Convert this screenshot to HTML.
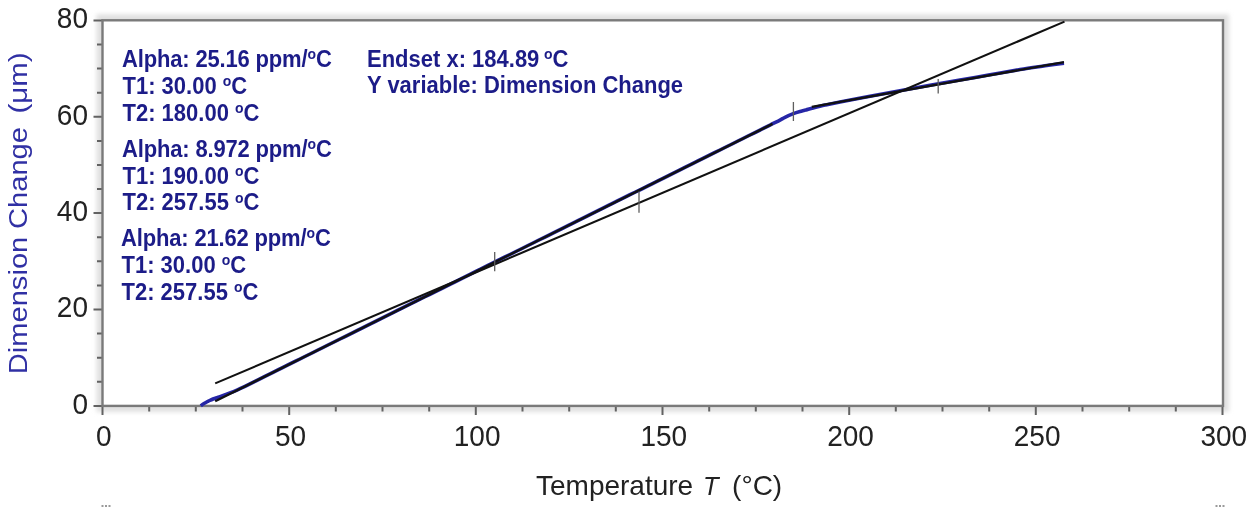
<!DOCTYPE html><html><head><meta charset="utf-8"><style>html,body{margin:0;padding:0;background:#fff;width:1251px;height:507px;overflow:hidden}svg{display:block}.tk{font-family:"Liberation Sans",Arial,sans-serif;font-size:28px;fill:#222}.yl{font-family:"Liberation Sans",Arial,sans-serif;font-size:29.5px;fill:#3030a4}.an{font-family:"Liberation Sans",Arial,sans-serif;font-size:22px;font-weight:bold;fill:#1c1c88}</style></head><body><svg width="1251" height="507" viewBox="0 0 1251 507"><defs><filter id="bl" x="-5%" y="-5%" width="110%" height="110%"><feGaussianBlur stdDeviation="2"/></filter></defs><rect x="96.5" y="14.3" width="1132.5" height="397.59999999999997" fill="#e0e0e0" filter="url(#bl)"/><rect x="102.5" y="20.3" width="1120.5" height="385.59999999999997" fill="#fff"/><path d="M102.5 405.9V414.9 M149.2 405.9V411.4 M195.8 405.9V411.4 M242.5 405.9V411.4 M289.2 405.9V414.9 M335.8 405.9V411.4 M382.5 405.9V411.4 M429.2 405.9V411.4 M475.8 405.9V414.9 M522.5 405.9V411.4 M569.2 405.9V411.4 M615.8 405.9V411.4 M662.5 405.9V414.9 M709.2 405.9V411.4 M755.8 405.9V411.4 M802.5 405.9V411.4 M849.2 405.9V414.9 M895.8 405.9V411.4 M942.5 405.9V411.4 M989.2 405.9V411.4 M1035.8 405.9V414.9 M1082.5 405.9V411.4 M1129.2 405.9V411.4 M1175.8 405.9V411.4 M1222.5 405.9V414.9 M102.5 405.9H93.5 M102.5 381.8H97.0 M102.5 357.7H97.0 M102.5 333.6H97.0 M102.5 309.5H93.5 M102.5 285.4H97.0 M102.5 261.3H97.0 M102.5 237.2H97.0 M102.5 213.1H93.5 M102.5 189.1H97.0 M102.5 165.0H97.0 M102.5 140.9H97.0 M102.5 116.8H93.5 M102.5 92.7H97.0 M102.5 68.6H97.0 M102.5 44.5H97.0 M102.5 20.4H93.5" stroke="#626262" stroke-width="2" fill="none"/><rect x="102.5" y="20.3" width="1120.5" height="385.59999999999997" fill="none" stroke="#7a7a7a" stroke-width="2.4"/><text class="tk" transform="translate(103.8 446.2) scale(1 1.04)" text-anchor="middle">0</text><text class="tk" transform="translate(290.5 446.2) scale(1 1.04)" text-anchor="middle">50</text><text class="tk" transform="translate(477.1 446.2) scale(1 1.04)" text-anchor="middle">100</text><text class="tk" transform="translate(663.8 446.2) scale(1 1.04)" text-anchor="middle">150</text><text class="tk" transform="translate(850.5 446.2) scale(1 1.04)" text-anchor="middle">200</text><text class="tk" transform="translate(1037.1 446.2) scale(1 1.04)" text-anchor="middle">250</text><text class="tk" transform="translate(1223.8 446.2) scale(1 1.04)" text-anchor="middle">300</text><text class="tk" transform="translate(88 413.7) scale(1 1.05)" text-anchor="end">0</text><text class="tk" transform="translate(88 317.3) scale(1 1.05)" text-anchor="end">20</text><text class="tk" transform="translate(88 220.9) scale(1 1.05)" text-anchor="end">40</text><text class="tk" transform="translate(88 124.6) scale(1 1.05)" text-anchor="end">60</text><text class="tk" transform="translate(88 28.2) scale(1 1.05)" text-anchor="end">80</text><text class="tk" x="536" y="495">Temperature <tspan font-style="italic" style="font-size:25.5px" dx="2">T</tspan>  <tspan dx="-2">(°C)</tspan></text><g transform="translate(27 400) rotate(-90) scale(1 0.905)"><text class="yl" x="25.8" y="0" style="font-size:29.1px">Dimension</text><text class="yl" x="171" y="0" style="font-size:29.1px">Change</text><text class="yl" x="286.5" y="0">(μm)</text></g><text class="an" transform="translate(122 66.5) scale(1 1.05)" letter-spacing="-0.16">Alpha: 25.16 ppm/<tspan font-size="14" dy="-7.5">o</tspan><tspan dy="7.5">C</tspan></text><text class="an" transform="translate(122.5 94.1) scale(1 1.05)">T1: 30.00 <tspan font-size="14" dy="-7.5">o</tspan><tspan dy="7.5">C</tspan></text><text class="an" transform="translate(122.5 120.7) scale(1 1.05)">T2: 180.00 <tspan font-size="14" dy="-7.5">o</tspan><tspan dy="7.5">C</tspan></text><text class="an" transform="translate(122 156.5) scale(1 1.05)" letter-spacing="-0.16">Alpha: 8.972 ppm/<tspan font-size="14" dy="-7.5">o</tspan><tspan dy="7.5">C</tspan></text><text class="an" transform="translate(122.5 183.6) scale(1 1.05)">T1: 190.00 <tspan font-size="14" dy="-7.5">o</tspan><tspan dy="7.5">C</tspan></text><text class="an" transform="translate(122.5 210.4) scale(1 1.05)">T2: 257.55 <tspan font-size="14" dy="-7.5">o</tspan><tspan dy="7.5">C</tspan></text><text class="an" transform="translate(121 246) scale(1 1.05)" letter-spacing="-0.16">Alpha: 21.62 ppm/<tspan font-size="14" dy="-7.5">o</tspan><tspan dy="7.5">C</tspan></text><text class="an" transform="translate(121.5 272.8) scale(1 1.05)">T1: 30.00 <tspan font-size="14" dy="-7.5">o</tspan><tspan dy="7.5">C</tspan></text><text class="an" transform="translate(121.5 299.6) scale(1 1.05)">T2: 257.55 <tspan font-size="14" dy="-7.5">o</tspan><tspan dy="7.5">C</tspan></text><text class="an" transform="translate(367 66.7) scale(1 1.05)">Endset x: 184.89 <tspan font-size="14" dy="-7.5" dx="-1.5">o</tspan><tspan dy="7.5">C</tspan></text><text class="an" transform="translate(367 92.8) scale(1 1.05)">Y variable: Dimension Change</text><path d="M200.8 405.8 C201.3 405.4 202.8 404.2 204.0 403.5 C205.2 402.8 206.7 402.0 208.0 401.3 C209.3 400.6 210.7 400.1 212.0 399.5 C213.3 398.9 214.7 398.5 216.0 398.0 C217.3 397.5 218.3 397.2 220.0 396.6 C221.7 396.0 224.0 395.2 226.0 394.5 C228.0 393.8 229.7 393.2 232.0 392.2 C234.3 391.2 237.0 390.1 240.0 388.7 C243.0 387.3 246.7 385.5 250.0 383.8 C253.3 382.2 256.7 380.5 260.0 378.9 C263.3 377.2 266.7 375.5 270.0 373.9 C273.3 372.2 276.7 370.6 280.0 368.9 C283.3 367.2 286.7 365.6 290.0 363.9 C293.3 362.3 296.7 360.6 300.0 359.0 C303.3 357.3 306.7 355.6 310.0 354.0 C313.3 352.3 316.7 350.7 320.0 349.0 C323.3 347.3 326.7 345.7 330.0 344.0 C333.3 342.4 336.7 340.7 340.0 339.0 C343.3 337.4 346.7 335.7 350.0 334.1 C353.3 332.4 356.7 330.8 360.0 329.1 C363.3 327.4 366.7 325.8 370.0 324.1 C373.3 322.5 376.7 320.8 380.0 319.1 C383.3 317.5 386.7 315.8 390.0 314.2 C393.3 312.5 396.7 310.9 400.0 309.2 C403.3 307.5 406.7 305.9 410.0 304.2 C413.3 302.6 416.7 300.9 420.0 299.2 C423.3 297.6 426.7 295.9 430.0 294.3 C433.3 292.6 436.7 290.9 440.0 289.3 C443.3 287.6 446.7 286.0 450.0 284.3 C453.3 282.7 456.7 281.0 460.0 279.3 C463.3 277.7 466.7 276.0 470.0 274.4 C473.3 272.7 476.7 271.0 480.0 269.4 C483.3 267.7 486.7 266.1 490.0 264.4 C493.3 262.7 496.7 261.1 500.0 259.4 C503.3 257.8 506.7 256.1 510.0 254.5 C513.3 252.8 516.7 251.1 520.0 249.5 C523.3 247.8 526.7 246.2 530.0 244.5 C533.3 242.8 536.7 241.2 540.0 239.5 C543.3 237.9 546.7 236.2 550.0 234.6 C553.3 232.9 556.7 231.2 560.0 229.6 C563.3 227.9 566.7 226.3 570.0 224.6 C573.3 222.9 576.7 221.3 580.0 219.6 C583.3 218.0 586.7 216.3 590.0 214.6 C593.3 213.0 596.7 211.3 600.0 209.7 C603.3 208.0 606.7 206.4 610.0 204.7 C613.3 203.0 616.7 201.4 620.0 199.7 C623.3 198.1 626.7 196.4 630.0 194.7 C633.3 193.1 636.7 191.4 640.0 189.8 C643.3 188.1 646.7 186.5 650.0 184.8 C653.3 183.1 656.7 181.5 660.0 179.8 C663.3 178.2 666.7 176.5 670.0 174.8 C673.3 173.2 676.7 171.5 680.0 169.9 C683.3 168.2 686.7 166.5 690.0 164.9 C693.3 163.2 696.7 161.6 700.0 159.9 C703.3 158.3 706.7 156.6 710.0 154.9 C713.3 153.3 716.7 151.6 720.0 150.0 C723.3 148.3 726.7 146.6 730.0 145.0 C733.3 143.3 736.7 141.7 740.0 140.0 C743.3 138.3 746.7 136.7 750.0 135.0 C753.3 133.4 756.7 131.7 760.0 130.1 C763.3 128.4 766.7 126.7 770.0 125.1 C773.3 123.4 777.5 121.4 780.0 120.1 C782.5 118.8 782.8 118.4 785.0 117.3 C787.2 116.2 790.8 114.7 793.3 113.7 C795.8 112.7 797.9 112.1 800.0 111.5 C802.1 110.9 804.0 110.5 806.0 109.9 C808.0 109.4 808.8 109.0 812.0 108.2 C815.2 107.4 820.3 106.1 825.0 105.1 C829.7 104.1 832.5 103.5 840.0 102.0 C847.5 100.5 860.0 98.1 870.0 96.2 C880.0 94.3 890.0 92.5 900.0 90.7 C910.0 88.9 920.0 87.0 930.0 85.2 C940.0 83.4 950.0 81.7 960.0 80.0 C970.0 78.3 980.0 76.5 990.0 74.8 C1000.0 73.1 1010.8 71.1 1020.0 69.6 C1029.2 68.1 1037.7 66.9 1045.0 65.8 C1052.3 64.7 1060.8 63.6 1064.0 63.2" stroke="#2626a6" stroke-width="3.6" fill="none" stroke-linejoin="round" stroke-linecap="butt"/><line x1="215.2" y1="401.2" x2="772.5" y2="123.9" stroke="#111" stroke-width="2.3"/><line x1="811.8" y1="106.8" x2="1064.0" y2="62.1" stroke="#111" stroke-width="2.3"/><line x1="215.2" y1="383.4" x2="1064.5" y2="21.6" stroke="#111" stroke-width="2.1"/><line x1="494.7" y1="252" x2="494.7" y2="271.3" stroke="#5e5e5e" stroke-width="1.3"/><line x1="639" y1="191.4" x2="639" y2="212.7" stroke="#5e5e5e" stroke-width="1.3"/><line x1="793.4" y1="102" x2="793.4" y2="121" stroke="#5e5e5e" stroke-width="1.3"/><line x1="938.2" y1="79" x2="938.2" y2="93.6" stroke="#5e5e5e" stroke-width="1.3"/><g fill="#9a9a9a"><rect x="101.5" y="505" width="2" height="2"/><rect x="105" y="505" width="2" height="2"/><rect x="108.5" y="505" width="2" height="2"/><rect x="1215.5" y="505" width="2" height="2"/><rect x="1219" y="505" width="2" height="2"/><rect x="1222.5" y="505" width="2" height="2"/></g></svg></body></html>
